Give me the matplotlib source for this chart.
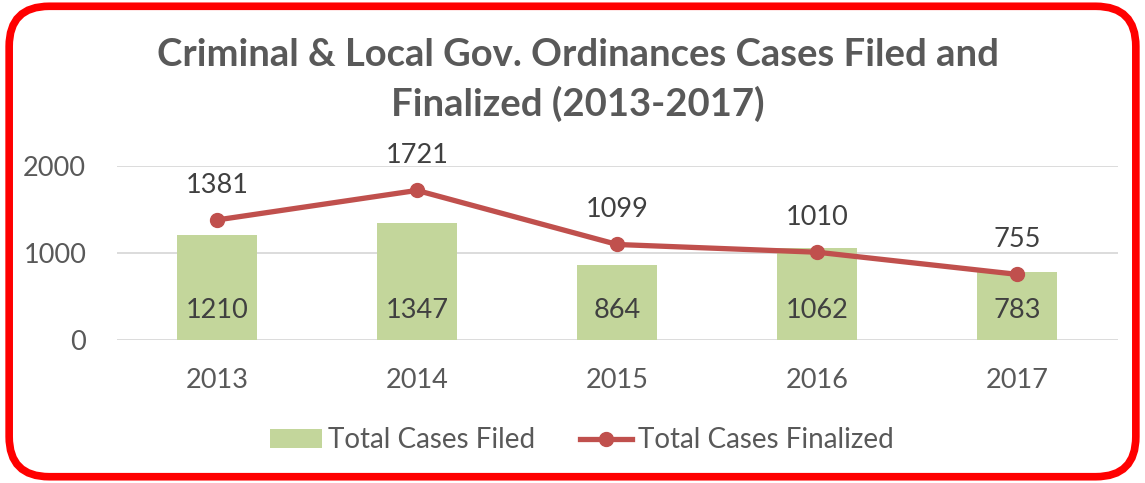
import matplotlib.pyplot as plt
from matplotlib.patches import FancyBboxPatch

years = ['2013', '2014', '2015', '2016', '2017']
cases_filed = [1210, 1347, 864, 1062, 783]
cases_finalized = [1381, 1721, 1099, 1010, 755]

plt.rcParams['font.family'] = ['Lato', 'DejaVu Sans']

BAR_COLOR = '#C3D69B'
LINE_COLOR = '#C0504D'
TEXT_COLOR = '#595959'
LABEL_COLOR = '#404040'

fig = plt.figure(figsize=(11.45, 4.83), dpi=100)
ax = fig.add_axes([0.102, 0.296, 0.874, 0.36])

x = list(range(len(years)))
bars = ax.bar(x, cases_filed, width=0.4, color=BAR_COLOR, label='Total Cases Filed', zorder=2)
line, = ax.plot(x, cases_finalized, color=LINE_COLOR, lw=3.8, marker='o', markersize=10,
                label='Total Cases Finalized', zorder=3)

for xi, v in zip(x, cases_filed):
    ax.annotate(str(v), (xi, 0), xytext=(0, 21), textcoords='offset points',
                ha='center', va='center', fontsize=19.5, color=LABEL_COLOR)
for xi, v in zip(x, cases_finalized):
    ax.annotate(str(v), (xi, v), xytext=(0, 25), textcoords='offset points',
                ha='center', va='center', fontsize=19.5, color=LABEL_COLOR)

ax.set_xlim(-0.5, 4.5)
ax.set_ylim(0, 2000)
ax.set_yticks([0, 1000, 2000])
ax.set_xticks(x)
ax.set_xticklabels(years)
ax.tick_params(length=0, labelsize=19.5, labelcolor=TEXT_COLOR)
ax.tick_params(axis='x', pad=20)
ax.tick_params(axis='y', pad=22)
ax.yaxis.grid(True, color='#D9D9D9', lw=1.3, zorder=0)
ax.set_axisbelow(True)
for s in ax.spines.values():
    s.set_visible(False)

fig.text(0.505, 0.834, 'Criminal & Local Gov. Ordinances Cases Filed and\nFinalized (2013-2017)',
         ha='center', va='center', fontsize=27.5, fontweight='bold', color=TEXT_COLOR,
         linespacing=1.45)

fig.legend([bars, line], ['Total Cases Filed', 'Total Cases Finalized'],
           loc='center', bbox_to_anchor=(0.508, 0.088), ncol=2, frameon=False,
           fontsize=20, labelcolor=TEXT_COLOR, handlelength=1.9, handletextpad=0.2,
           columnspacing=1.6)

border = FancyBboxPatch((0.008, 0.013), 0.984, 0.974, boxstyle='round,pad=0,rounding_size=0.035',
                        transform=fig.transFigure, fill=False, edgecolor='#FF0000', lw=5.5,
                        mutation_aspect=1145 / 483)
fig.patches.append(border)

fig.savefig('out.png', dpi=100)
